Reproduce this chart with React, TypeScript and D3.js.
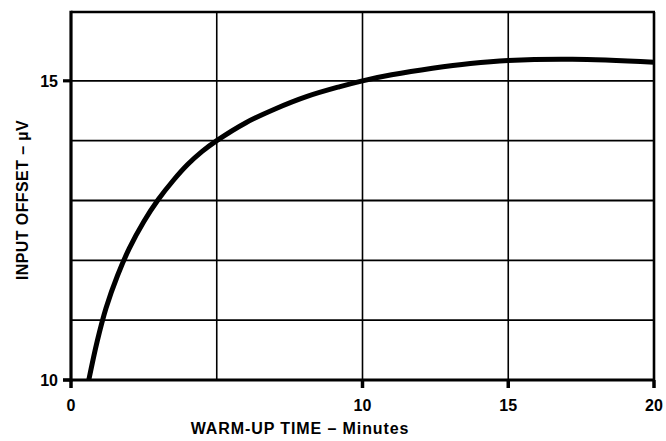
import React, { useEffect, useRef } from "react";
import * as d3 from "d3";

// warm-up curve
const minutes = [0.61, 0.9, 1.2, 1.6, 2.0, 2.5, 3.0, 3.5, 4.0, 4.5, 5.0, 6.0, 7.0, 8.1, 9.2, 10.0, 11.0, 12.4, 13.7, 15.0, 17.2, 20.0];
const offsetUV = [10.0, 10.65, 11.2, 11.75, 12.2, 12.65, 13.02, 13.33, 13.6, 13.82, 14.0, 14.3, 14.53, 14.74, 14.9, 15.0, 15.1, 15.21, 15.29, 15.34, 15.36, 15.31];

const xTickLabels = [0, 10, 15, 20];
const xGrid = [5, 10, 15];
const yTickLabels = [10, 15];
const yGrid = [11, 12, 13, 14, 15];

const App = () => {
  const ref = useRef<SVGSVGElement>(null);

  useEffect(() => {
    if (!ref.current) return;
    const svg = d3.select(ref.current);
    svg.selectAll("*").remove();

    const W = 666;
    const H = 441;
    const margin = { top: 12, right: 12, bottom: 61, left: 71 };
    const font = "'Liberation Sans', Arial, Helvetica, sans-serif";

    const x = d3.scaleLinear().domain([0, 20]).range([margin.left, W - margin.right]);
    const y = d3.scaleLinear().domain([10, 16.15]).range([H - margin.bottom, margin.top]);

    // Grid lines
    svg.append("g")
      .selectAll("line")
      .data(xGrid)
      .enter()
      .append("line")
      .attr("x1", d => x(d))
      .attr("x2", d => x(d))
      .attr("y1", y(16.15))
      .attr("y2", y(10))
      .attr("stroke", "#000")
      .attr("stroke-width", 1.6);

    svg.append("g")
      .selectAll("line")
      .data(yGrid)
      .enter()
      .append("line")
      .attr("x1", x(0))
      .attr("x2", x(20))
      .attr("y1", d => y(d))
      .attr("y2", d => y(d))
      .attr("stroke", "#000")
      .attr("stroke-width", 1.8);

    // Frame: heavier left/bottom axes
    svg.append("line")
      .attr("x1", x(0)).attr("x2", x(20) + 1)
      .attr("y1", y(16.15)).attr("y2", y(16.15))
      .attr("stroke", "#000").attr("stroke-width", 2.6);
    svg.append("line")
      .attr("x1", x(20)).attr("x2", x(20))
      .attr("y1", y(16.15)).attr("y2", y(10))
      .attr("stroke", "#000").attr("stroke-width", 2.6);
    svg.append("line")
      .attr("x1", x(0)).attr("x2", x(0))
      .attr("y1", y(16.15) - 1.3).attr("y2", y(10) + 1.5)
      .attr("stroke", "#000").attr("stroke-width", 3.2);
    svg.append("line")
      .attr("x1", x(0) - 8).attr("x2", x(20) + 1)
      .attr("y1", y(10)).attr("y2", y(10))
      .attr("stroke", "#000").attr("stroke-width", 3.2);

    // Ticks
    svg.append("g")
      .selectAll("line")
      .data(yTickLabels)
      .enter()
      .append("line")
      .attr("x1", x(0) - 8)
      .attr("x2", x(0))
      .attr("y1", d => y(d))
      .attr("y2", d => y(d))
      .attr("stroke", "#000")
      .attr("stroke-width", 3.2);

    svg.append("g")
      .selectAll("line")
      .data(xTickLabels)
      .enter()
      .append("line")
      .attr("x1", d => x(d))
      .attr("x2", d => x(d))
      .attr("y1", y(10))
      .attr("y2", y(10) + 8)
      .attr("stroke", "#000")
      .attr("stroke-width", 3.5);

    // Tick labels
    svg.append("g")
      .selectAll("text")
      .data(yTickLabels)
      .enter()
      .append("text")
      .attr("x", x(0) - 13)
      .attr("y", d => y(d))
      .attr("dy", "0.36em")
      .attr("text-anchor", "end")
      .style("font-family", font)
      .style("font-weight", "bold")
      .style("font-size", "16px")
      .text(d => d);

    svg.append("g")
      .selectAll("text")
      .data(xTickLabels)
      .enter()
      .append("text")
      .attr("x", d => x(d))
      .attr("y", y(10) + 31)
      .attr("text-anchor", "middle")
      .style("font-family", font)
      .style("font-weight", "bold")
      .style("font-size", "16px")
      .text(d => d);

    // Axis titles
    svg.append("text")
      .attr("x", 300)
      .attr("y", 434)
      .attr("text-anchor", "middle")
      .style("font-family", font)
      .style("font-weight", "bold")
      .style("font-size", "16px")
      .style("letter-spacing", "0.9px")
      .text("WARM-UP TIME \u2013 Minutes");

    svg.append("text")
      .attr("transform", `translate(28, 200) rotate(-90)`)
      .attr("text-anchor", "middle")
      .style("font-family", font)
      .style("font-weight", "bold")
      .style("font-size", "16px")
      .style("letter-spacing", "0.4px")
      .text("INPUT OFFSET \u2013 \u00b5V");

    // Curve
    const pts = minutes.map((m, i) => ({ m, v: offsetUV[i] }));
    const line = d3.line<{ m: number; v: number }>()
      .x(d => x(d.m))
      .y(d => y(d.v))
      .curve(d3.curveCatmullRom.alpha(0.5));

    svg.append("path")
      .datum(pts)
      .attr("fill", "none")
      .attr("stroke", "#000")
      .attr("stroke-width", 5)
      .attr("stroke-linecap", "butt")
      .attr("d", line);
  }, []);

  return (
    <svg
      ref={ref}
      width={666}
      height={441}
      style={{ position: "absolute", left: 0, top: 0, background: "#fff" }}
    />
  );
};

export default App;
